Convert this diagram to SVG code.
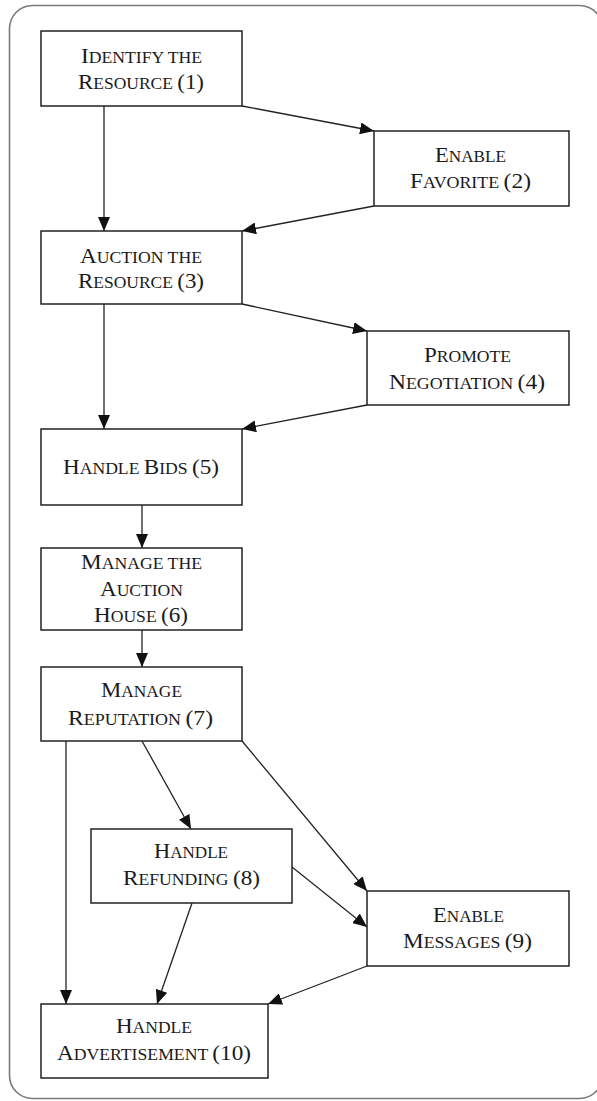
<svg xmlns="http://www.w3.org/2000/svg" width="597" height="1101" viewBox="0 0 597 1101">
<style>
.frame{fill:none;stroke:#7a7a7a;stroke-width:1.6}
.box{fill:#fff;stroke:#222;stroke-width:1.5}
.edge{fill:none;stroke:#222;stroke-width:1.3;marker-end:url(#ah)}
text{font-family:"Liberation Serif","Times New Roman",serif;font-size:16px;fill:#1a1a1a}
.c{font-size:21px}
</style>
<defs>
<marker id="ah" markerUnits="userSpaceOnUse" markerWidth="15" markerHeight="12" refX="14" refY="6" orient="auto">
<path d="M0,0 L14,6 L0,12 z" fill="#111"/>
</marker>
</defs>
<rect class="frame" x="9.5" y="5.5" width="593" height="1093" rx="23" ry="23"/>
<g id="connectors">
<path class="edge" d="M104,106 L104,231"/>
<path class="edge" d="M242,106 L374,131"/>
<path class="edge" d="M374,206 L242,231"/>
<path class="edge" d="M104,304 L104,429"/>
<path class="edge" d="M242,304 L367,331"/>
<path class="edge" d="M367,405 L242,429"/>
<path class="edge" d="M142,505 L142,548"/>
<path class="edge" d="M142,630 L142,667"/>
<path class="edge" d="M66,741 L66,1004"/>
<path class="edge" d="M142,741 L191,829"/>
<path class="edge" d="M242,741 L367,891"/>
<path class="edge" d="M292,867 L367,927"/>
<path class="edge" d="M192,903 L157,1004"/>
<path class="edge" d="M367,966 L268,1004"/>
</g>
<g id="n1">
<rect class="box" x="41" y="31" width="201" height="75"/>
<text x="81" y="63" textLength="121" lengthAdjust="spacingAndGlyphs"><tspan class="c">I</tspan>DENTIFY THE</text>
<text x="78" y="89" textLength="126" lengthAdjust="spacingAndGlyphs"><tspan class="c">R</tspan>ESOURCE <tspan class="c">(1)</tspan></text>
</g>
<g id="n2">
<rect class="box" x="374" y="131" width="195" height="75"/>
<text x="435" y="162" textLength="71" lengthAdjust="spacingAndGlyphs"><tspan class="c">E</tspan>NABLE</text>
<text x="410" y="188" textLength="121" lengthAdjust="spacingAndGlyphs"><tspan class="c">F</tspan>AVORITE <tspan class="c">(2)</tspan></text>
</g>
<g id="n3">
<rect class="box" x="41" y="231" width="201" height="73"/>
<text x="80" y="263" textLength="122" lengthAdjust="spacingAndGlyphs"><tspan class="c">A</tspan>UCTION THE</text>
<text x="78" y="288" textLength="126" lengthAdjust="spacingAndGlyphs"><tspan class="c">R</tspan>ESOURCE <tspan class="c">(3)</tspan></text>
</g>
<g id="n4">
<rect class="box" x="367" y="331" width="202" height="74"/>
<text x="424" y="362" textLength="87" lengthAdjust="spacingAndGlyphs"><tspan class="c">P</tspan>ROMOTE</text>
<text x="389" y="389" textLength="156" lengthAdjust="spacingAndGlyphs"><tspan class="c">N</tspan>EGOTIATION <tspan class="c">(4)</tspan></text>
</g>
<g id="n5">
<rect class="box" x="41" y="429" width="201" height="76"/>
<text x="63" y="474" textLength="156" lengthAdjust="spacingAndGlyphs"><tspan class="c">H</tspan>ANDLE <tspan class="c">B</tspan>IDS <tspan class="c">(5)</tspan></text>
</g>
<g id="n6">
<rect class="box" x="41" y="548" width="201" height="82"/>
<text x="81" y="569" textLength="121" lengthAdjust="spacingAndGlyphs"><tspan class="c">M</tspan>ANAGE THE</text>
<text x="100" y="596" textLength="83" lengthAdjust="spacingAndGlyphs"><tspan class="c">A</tspan>UCTION</text>
<text x="94" y="622" textLength="94" lengthAdjust="spacingAndGlyphs"><tspan class="c">H</tspan>OUSE <tspan class="c">(6)</tspan></text>
</g>
<g id="n7">
<rect class="box" x="41" y="667" width="201" height="74"/>
<text x="101" y="697" textLength="81" lengthAdjust="spacingAndGlyphs"><tspan class="c">M</tspan>ANAGE</text>
<text x="68" y="725" textLength="145" lengthAdjust="spacingAndGlyphs"><tspan class="c">R</tspan>EPUTATION <tspan class="c">(7)</tspan></text>
</g>
<g id="n8">
<rect class="box" x="91" y="829" width="201" height="74"/>
<text x="154" y="858" textLength="74" lengthAdjust="spacingAndGlyphs"><tspan class="c">H</tspan>ANDLE</text>
<text x="123" y="885" textLength="137" lengthAdjust="spacingAndGlyphs"><tspan class="c">R</tspan>EFUNDING <tspan class="c">(8)</tspan></text>
</g>
<g id="n9">
<rect class="box" x="367" y="891" width="202" height="75"/>
<text x="433" y="922" textLength="71" lengthAdjust="spacingAndGlyphs"><tspan class="c">E</tspan>NABLE</text>
<text x="403" y="948" textLength="129" lengthAdjust="spacingAndGlyphs"><tspan class="c">M</tspan>ESSAGES <tspan class="c">(9)</tspan></text>
</g>
<g id="n10">
<rect class="box" x="41" y="1004" width="227" height="74"/>
<text x="116" y="1033" textLength="76" lengthAdjust="spacingAndGlyphs"><tspan class="c">H</tspan>ANDLE</text>
<text x="57" y="1060" textLength="194" lengthAdjust="spacingAndGlyphs"><tspan class="c">A</tspan>DVERTISEMENT <tspan class="c">(10)</tspan></text>
</g>
</svg>
